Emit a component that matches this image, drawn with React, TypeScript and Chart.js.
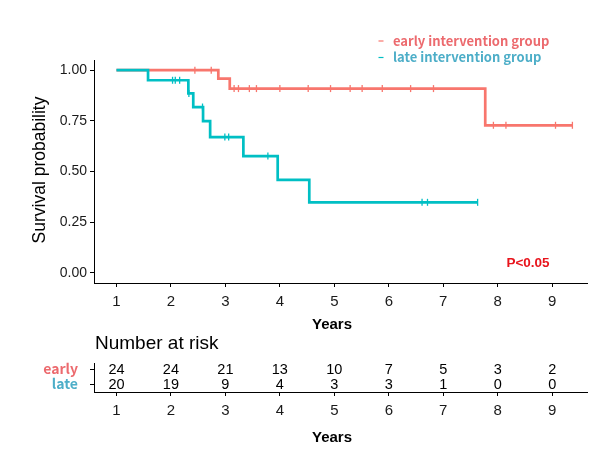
import React, { useEffect, useRef } from 'react';
import { Chart, registerables } from 'chart.js';

Chart.register(...registerables);

// ---------- data ----------
const xTicks = [1, 2, 3, 4, 5, 6, 7, 8, 9];
const yTicks = [0, 0.25, 0.5, 0.75, 1];

const earlyTimes = [1, 2.87, 3.08, 7.77, 9.37];
const earlyValues = [1, 0.958, 0.909, 0.728, 0.728];
const lateTimes = [1, 1.58, 2.32, 2.41, 2.59, 2.72, 3.33, 3.96, 4.54, 7.63];
const lateValues = [1, 0.95, 0.885, 0.818, 0.748, 0.67, 0.576, 0.459, 0.348, 0.348];

const earlyCensorTimes = [2.44, 2.74, 3.16, 3.24, 3.44, 3.57, 4.0, 4.52, 4.93, 5.29, 5.51, 5.88, 6.4, 6.82, 7.92, 8.15, 9.06, 9.37];
const earlyCensorValues = [1, 1, 0.909, 0.909, 0.909, 0.909, 0.909, 0.909, 0.909, 0.909, 0.909, 0.909, 0.909, 0.909, 0.728, 0.728, 0.728, 0.728];
const lateCensorTimes = [2.03, 2.08, 2.16, 2.33, 2.58, 2.99, 3.06, 3.78, 6.61, 6.71, 7.63];
const lateCensorValues = [0.95, 0.95, 0.95, 0.885, 0.818, 0.67, 0.67, 0.576, 0.348, 0.348, 0.348];

const riskTimes = [1, 2, 3, 4, 5, 6, 7, 8, 9];
const riskEarly = [24, 24, 21, 13, 10, 7, 5, 3, 2];
const riskLate = [20, 19, 9, 4, 3, 3, 1, 0, 0];
const riskLabels = ['early', 'late'];
const riskRowPos = [2, 1];

const legendLabels = ['early intervention group', 'late intervention group'];
const pLabel = 'P<0.05';
const yTitle = 'Survival probability';
const xTitle = 'Years';
const riskTitle = 'Number at risk';

// ---------- style ----------
const SANS = '"Liberation Sans", Arial, sans-serif';
const JP = '"Noto Sans CJK JP", "Noto Sans", sans-serif';
const RED = '#F8766D';
const TEAL = '#00BFC4';
const RED_TXT = '#EC6A6E';
const TEAL_TXT = '#4DAEC8';
const TICK_TXT = '#1a1a1a';

const pts = (xs: number[], ys: number[]) => xs.map((x, i) => ({ x, y: ys[i] }));

const axisGrid = { display: true, drawOnChartArea: false, drawTicks: true, tickLength: 4, color: '#000', lineWidth: 1 };
const axisBorder = { display: true, color: '#000', width: 1 };

const X_MIN = 0.588;
const X_MAX = 9.638;

export default function App() {
  const topRef = useRef<HTMLCanvasElement>(null);
  const botRef = useRef<HTMLCanvasElement>(null);

  useEffect(() => {
    const topText = {
      id: 'topText',
      afterDraw(chart: any) {
        const ctx = chart.ctx;
        ctx.save();
        ctx.fillStyle = '#000';
        ctx.font = `17.5px ${SANS}`;
        ctx.textAlign = 'center';
        ctx.textBaseline = 'middle';
        ctx.translate(40, 170);
        ctx.rotate(-Math.PI / 2);
        ctx.fillText(yTitle, 0, 0);
        ctx.restore();
        ctx.save();
        ctx.fillStyle = '#000';
        ctx.font = `bold 15px ${SANS}`;
        ctx.textAlign = 'center';
        ctx.textBaseline = 'middle';
        ctx.fillText(xTitle, 332, 325);
        const cols = [RED, TEAL];
        const txtCols = [RED_TXT, TEAL_TXT];
        legendLabels.forEach((lab, i) => {
          const y = 41 + i * 16.5;
          ctx.strokeStyle = cols[i];
          ctx.lineWidth = 1.2;
          ctx.beginPath();
          ctx.moveTo(378.5, y);
          ctx.lineTo(383.5, y);
          ctx.stroke();
          ctx.fillStyle = txtCols[i];
          ctx.font = `bold 13px ${JP}`;
          ctx.textAlign = 'left';
          ctx.textBaseline = 'middle';
          ctx.fillText(lab, 393, y);
        });
        ctx.fillStyle = '#E8141C';
        ctx.font = `bold 13.5px ${SANS}`;
        ctx.textAlign = 'center';
        ctx.textBaseline = 'middle';
        ctx.fillText(pLabel, 528, 263);
        ctx.restore();
      },
    };

    const top = new Chart(topRef.current as HTMLCanvasElement, {
      type: 'line',
      data: {
        datasets: [
          { label: 'late', data: pts(lateTimes, lateValues), borderColor: TEAL, borderWidth: 2.7, stepped: 'before', pointRadius: 0, fill: false, order: 2 } as any,
          { label: 'early', data: pts(earlyTimes, earlyValues), borderColor: RED, borderWidth: 2.7, stepped: 'before', pointRadius: 0, fill: false, order: 3 } as any,
          { label: 'late censored', data: pts(lateCensorTimes, lateCensorValues), showLine: false, borderColor: TEAL, pointStyle: 'line', pointRotation: 90, pointRadius: 3.5, pointBorderColor: TEAL, pointBorderWidth: 1.3, pointHoverRadius: 0, order: 0 } as any,
          { label: 'early censored', data: pts(earlyCensorTimes, earlyCensorValues), showLine: false, borderColor: RED, pointStyle: 'line', pointRotation: 90, pointRadius: 3.5, pointBorderColor: RED, pointBorderWidth: 1.3, pointHoverRadius: 0, order: 1 } as any,
        ],
      },
      options: {
        animation: false,
        responsive: false,
        events: [],
        layout: { padding: { top: 60, right: 15, left: 0, bottom: 0 } },
        plugins: { legend: { display: false }, tooltip: { enabled: false } },
        scales: {
          x: {
            type: 'linear',
            min: X_MIN,
            max: X_MAX,
            afterBuildTicks: (s: any) => { s.ticks = xTicks.map((v) => ({ value: v })); },
            afterFit: (s: any) => { s.height = 57; },
            grid: axisGrid as any,
            border: axisBorder as any,
            ticks: { font: { family: SANS, size: 15 }, color: TICK_TXT, padding: 6, maxRotation: 0, autoSkip: false, callback: (v: any) => String(v) },
          },
          y: {
            type: 'linear',
            min: -0.05,
            max: 1.05,
            afterBuildTicks: (s: any) => { s.ticks = yTicks.map((v) => ({ value: v })); },
            afterFit: (s: any) => { s.width = 94; },
            grid: axisGrid as any,
            border: axisBorder as any,
            ticks: { font: { family: SANS, size: 14 }, color: TICK_TXT, padding: 3, callback: (v: any) => Number(v).toFixed(2) },
          },
        },
      },
      plugins: [topText],
    });

    const botText = {
      id: 'botText',
      afterDraw(chart: any) {
        const ctx = chart.ctx;
        const xs = chart.scales.x;
        const ys = chart.scales.y;
        ctx.save();
        ctx.fillStyle = '#000';
        ctx.font = `19px ${SANS}`;
        ctx.textAlign = 'left';
        ctx.textBaseline = 'middle';
        ctx.fillText(riskTitle, 95, 9);
        ctx.font = `14.5px ${SANS}`;
        ctx.textAlign = 'center';
        const rows = [riskEarly, riskLate];
        rows.forEach((row, r) => {
          row.forEach((n, i) => {
            ctx.fillText(String(n), xs.getPixelForValue(riskTimes[i]), ys.getPixelForValue(riskRowPos[r]) + 0.5);
          });
        });
        ctx.font = `bold 15px ${SANS}`;
        ctx.fillText(xTitle, 332, 103);
        ctx.restore();
      },
    };

    const bot = new Chart(botRef.current as HTMLCanvasElement, {
      type: 'line',
      data: { datasets: [] },
      options: {
        animation: false,
        responsive: false,
        events: [],
        layout: { padding: { top: 28, right: 15, left: 0, bottom: 0 } },
        plugins: { legend: { display: false }, tooltip: { enabled: false } },
        scales: {
          x: {
            type: 'linear',
            min: X_MIN,
            max: X_MAX,
            afterBuildTicks: (s: any) => { s.ticks = xTicks.map((v) => ({ value: v })); },
            afterFit: (s: any) => { s.height = 64; },
            grid: axisGrid as any,
            border: axisBorder as any,
            ticks: { font: { family: SANS, size: 15 }, color: TICK_TXT, padding: 6, maxRotation: 0, autoSkip: false, callback: (v: any) => String(v) },
          },
          y: {
            type: 'linear',
            min: 0.467,
            max: 2.4,
            afterBuildTicks: (s: any) => { s.ticks = riskRowPos.map((v) => ({ value: v })); },
            afterFit: (s: any) => { s.width = 94; },
            grid: axisGrid as any,
            border: axisBorder as any,
            ticks: {
              font: { family: JP, size: 14, weight: 'bold' },
              color: (c: any) => (c.tick && c.tick.value === riskRowPos[0] ? RED_TXT : TEAL_TXT),
              padding: 12,
              callback: (v: any) => riskLabels[riskRowPos.indexOf(Number(v))] ?? '',
            },
          },
        },
      },
      plugins: [botText],
    });

    return () => {
      top.destroy();
      bot.destroy();
    };
  }, []);

  return (
    <div style={{ position: 'absolute', left: 0, top: 0, width: 602, height: 456, background: '#fff' }}>
      <canvas ref={topRef} width={602} height={340} style={{ position: 'absolute', left: 0, top: 0, display: 'block' }} />
      <canvas ref={botRef} width={602} height={121} style={{ position: 'absolute', left: 0, top: 335, display: 'block' }} />
    </div>
  );
}
